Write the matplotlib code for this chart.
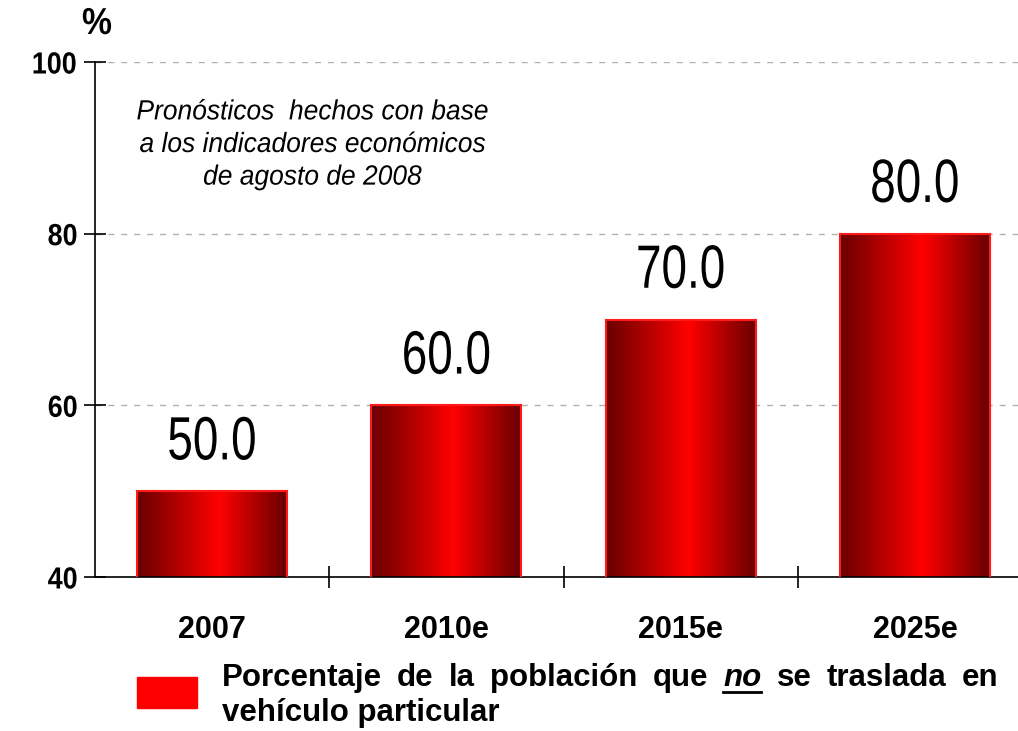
import matplotlib
matplotlib.use('Agg')
import matplotlib.pyplot as plt
import numpy as np
from matplotlib import patheffects
from matplotlib.transforms import Affine2D
from matplotlib.colors import LinearSegmentedColormap
from matplotlib.patches import Rectangle

years = ['2007', '2010e', '2015e', '2025e']
values = [50.0, 60.0, 70.0, 80.0]
yticks = [40, 60, 80, 100]
note = 'Pronósticos  hechos con base\na los indicadores económicos\nde agosto de 2008'
legend_line1 = ['Porcentaje', 'de', 'la', 'población', 'que', 'no', 'se', 'traslada', 'en']
legend_line2 = 'vehículo particular'

FONT = 'Liberation Sans'


class Condense(patheffects.AbstractPathEffect):
    # squeeze glyphs horizontally about the middle of each text line
    def __init__(self, sx):
        super().__init__()
        self.sx = sx

    def draw_path(self, renderer, gc, tpath, affine, rgbFace=None):
        ext = tpath.get_extents()
        cx = (ext.x0 + ext.x1) / 2
        t = Affine2D().translate(-cx, 0).scale(self.sx, 1).translate(cx, 0) + affine
        renderer.draw_path(gc, tpath, t, rgbFace)


fig = plt.figure(figsize=(10.18, 7.31), dpi=100)
W, H = 1018, 731
ax = fig.add_axes([95 / W, 1 - 577 / H, 937 / W, 515 / H])

x = np.arange(len(years))
bars = ax.bar(x, values, width=0.64, color='none', edgecolor='#ff1a1a', linewidth=1.5, zorder=3)

cmap = LinearSegmentedColormap.from_list('bar', [(0, '#680000'), (0.55, '#ff0000'), (1, '#680000')])
grad = np.linspace(0, 1, 256).reshape(1, -1)
for b in bars:
    bx = b.get_x()
    im = ax.imshow(grad, cmap=cmap, aspect='auto', zorder=2,
                   extent=[bx, bx + b.get_width(), 40, b.get_height()])
    im.set_clip_path(b)

for xi, v in zip(x, values):
    ax.text(xi, v + 3.7, f'{v:.1f}', ha='center', va='baseline', fontsize=44,
            family=FONT, color='black', path_effects=[Condense(0.75)])

ax.set_xlim(-0.5, 3.5)
ax.set_ylim(40, 100)
ax.set_yticks(yticks)
ax.set_yticklabels([str(t) for t in yticks], fontsize=22, fontweight='bold', family=FONT)
for t in ax.get_yticklabels():
    t.set_path_effects([Condense(0.88)])
ax.set_xticks(x)
ax.set_xticklabels(years, fontsize=22, fontweight='bold', family=FONT)
ax.tick_params(axis='x', length=0, pad=27)
ax.set_xticks(np.arange(0.5, 3.5, 1), minor=True)
ax.tick_params(axis='x', which='minor', direction='inout', length=16, width=1.2)
ax.tick_params(axis='y', direction='inout', length=16, width=1.2, pad=3)
ax.grid(axis='y', color='#b0b0b0', linestyle=(0, (4.3, 5)), linewidth=1)
ax.set_axisbelow(True)
for s in ['top', 'right']:
    ax.spines[s].set_visible(False)
ax.spines['left'].set_linewidth(1.2)
ax.spines['bottom'].set_linewidth(1.2)

fig.text(97 / W, 1 - 24 / H, '%', ha='center', va='center', fontsize=27,
         fontweight='bold', family=FONT, path_effects=[Condense(0.9)])

fig.text(312 / W, 1 - 145 / H, note, ha='center', va='center', fontsize=20,
         style='italic', family=FONT, linespacing=1.33, path_effects=[Condense(0.95)])

fig.patches.append(Rectangle((137 / W, 1 - 708 / H), 60 / W, 31 / H,
                             transform=fig.transFigure, color='#ff0000', figure=fig))

# first legend line is justified between x0 and x1
x0, x1 = 222, 998
y1 = 1 - 678 / H
fig.canvas.draw()
r = fig.canvas.get_renderer()
objs = []
for w in legend_line1:
    t = fig.text(0, y1, w, ha='left', va='center', fontsize=22.5, fontweight='bold',
                 family=FONT, style='italic' if w == 'no' else 'normal')
    objs.append(t)
widths = [t.get_window_extent(r).width for t in objs]
gap = (x1 - x0 - sum(widths)) / (len(objs) - 1)
cx = x0
for t, w, word in zip(objs, widths, legend_line1):
    t.set_x(cx / W)
    if word == 'no':
        fig.add_artist(plt.Line2D([cx / W, (cx + w) / W], [1 - 692 / H] * 2,
                                  transform=fig.transFigure, color='black', linewidth=2))
    cx += w + gap
fig.text(x0 / W, 1 - 713 / H, legend_line2, ha='left', va='center', fontsize=22.5,
         fontweight='bold', family=FONT)

fig.savefig('out.png', dpi=100)
